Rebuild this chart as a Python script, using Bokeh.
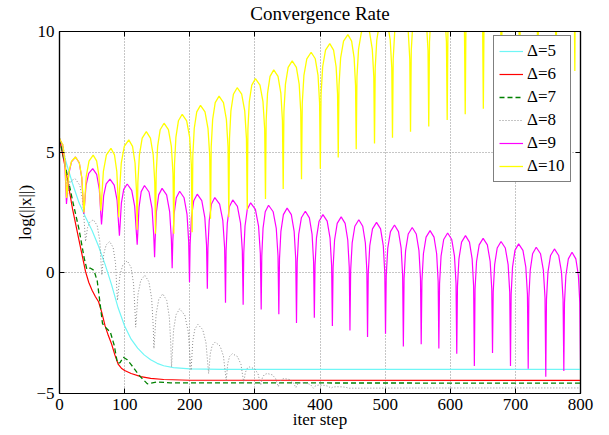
from bokeh.plotting import figure
from bokeh.models import (Range1d, FixedTicker, LinearAxis, Legend, LegendItem, Grid,
                          CustomLabelingPolicy)
from bokeh.embed import file_html
from bokeh.resources import INLINE

# ---------------- data ----------------
X_TICKS = [0, 100, 200, 300, 400, 500, 600, 700, 800]
Y_TICKS = [-5, 0, 5, 10]
LABELS = ["\u0394=5", "\u0394=6", "\u0394=7", "\u0394=8", "\u0394=9", "\u0394=10"]

# smooth curves
D5_X = [0, 10, 20, 30, 40, 50, 60, 70, 80, 90, 100, 110, 120, 130, 140, 150, 160, 175, 200, 250, 800]
D5_Y = [5.56, 4.6, 3.7, 2.9, 2.3, 1.75, 1.1, 0.35, -0.5, -1.45, -2.2, -2.75, -3.12, -3.4, -3.6, -3.75,
        -3.85, -3.93, -3.98, -4.0, -4.0]

D6_X = [0, 10, 20, 30, 40, 45, 50, 55, 60, 65, 70, 75, 80, 85, 90, 95, 100, 110, 125, 140, 160, 200, 800]
D6_Y = [5.56, 4.2, 2.65, 1.35, 0.05, -0.4, -0.72, -0.98, -1.2, -1.65, -2.2, -2.6, -2.95, -3.4, -3.78,
        -3.95, -4.05, -4.17, -4.3, -4.37, -4.42, -4.45, -4.46]

D7_X = [0, 10, 20, 30, 38, 42, 47, 53, 58, 62, 66, 72, 78, 84, 89, 93, 98, 104, 110, 122, 135, 150, 170, 800]
D7_Y = [5.56, 4.3, 3.0, 1.8, 0.6, 0.15, 0.2, 0.1, -0.35, -1.2, -2.1, -2.3, -2.45, -3.0, -3.75, -3.72,
        -3.5, -3.6, -3.8, -4.24, -4.6, -4.52, -4.56, -4.57]

# oscillating curves: alternating peaks / troughs (iteration, value)
D8_EXT_X = [0, 12, 24, 40, 52, 65, 77, 89, 104, 117, 131, 145, 158.5, 172, 184.5, 202, 212.5, 229,
            239, 256, 265.5, 283, 292, 309, 319, 336, 345, 363, 372, 390, 399, 417, 426, 444, 800]
D8_EXT_Y = [5.56, 3.2, 3.9, 1.3, 2.2, -0.1, 1.3, -1.14, 0.5, -2.25, -0.1, -3.14, -0.87, -3.9, -1.49,
            -4.04, -2.14, -4.17, -2.87, -4.45, -3.35, -4.55, -3.9, -4.65, -4.17, -4.72, -4.38, -4.76,
            -4.55, -4.78, -4.65, -4.78, -4.72, -4.78, -4.77]

D9_EXT_X = [0, 10.7, 24.6, 37.4, 51, 64.5, 77.5, 92, 104, 119.3, 130.5, 146, 157.5, 173, 184.5, 199.6,
            211.5, 227, 238.5, 254.9, 266, 282, 293.5, 309.7, 321, 336.8, 349.5, 363.9, 377.5, 391.3,
            404.5, 419, 432.5, 446, 459.6, 473, 486.8, 500.6, 514.4, 528, 541.6, 555.4, 569, 582.5,
            596, 610, 623.4, 637, 650.5, 664.9, 678, 692.5, 705, 719.7, 732, 746.7, 760, 774.4, 787, 800]
D9_EXT_Y = [5.56, 2.85, 4.8, 2.45, 4.32, 2.0, 3.88, 1.54, 3.68, 1.17, 3.62, 0.65, 3.5, 0.19, 3.38, -0.39,
            3.26, -0.66, 3.12, -1.24, 3.02, -1.32, 2.9, -1.52, 2.8, -1.72, 2.68, -2.08, 2.55, -1.86,
            2.41, -2.2, 2.32, -2.39, 2.2, -2.66, 2.09, -2.52, 1.98, -3.05, 1.88, -2.96, 1.75, -3.13,
            1.65, -3.35, 1.54, -3.86, 1.43, -3.32, 1.3, -3.86, 1.2, -3.97, 1.06, -4.31, 0.99, -4.07, 0.85, -3.62]

D10_EXT_X = [0, 11, 24.6, 37.5, 51.7, 63.5, 79, 91, 106.4, 119.2, 133.3, 147.4, 160.5, 175.5, 188.4,
             203.7, 216.5, 231.9, 245, 260, 272.8, 288.3, 300.9, 316.3, 329, 343.5, 357.3, 371.6,
             386.4, 400.5, 415, 428, 442.8, 455.6, 470, 483.7, 497.5, 511.3, 525, 539, 553, 567, 581,
             595.3, 609, 623, 637, 650.8, 665, 678.5, 692.5, 706.5, 720.5, 734.5, 748.5, 762.5, 777,
             791.3, 800]
D10_EXT_Y = [5.56, 3.1, 4.8, 2.5, 4.88, 2.57, 5.16, 2.3, 5.51, 1.79, 5.85, 1.62, 6.2, 1.62, 6.57,
             1.68, 6.94, 2.24, 7.32, 2.3, 7.67, 2.61, 8.05, 3.06, 8.41, 3.47, 8.78, 3.88, 9.14, 4.31,
             9.5, 4.78, 9.87, 5.12, 10.23, 5.36, 10.6, 5.6, 10.95, 5.85, 11.3, 6.06, 11.67, 6.33,
             12.03, 6.57, 12.4, 6.8, 12.75, 7.05, 13.1, 7.3, 13.45, 7.55, 13.8, 7.8, 14.15, 8.36, 14.3]

# arch shape (fraction of the way from a peak to the next trough, drop below the peak)
ARCH_U = [0.45, 0.75, 0.92]
ARCH_DROP = [0.27, 0.96, 2.1]


def arches(ext_x, ext_y):
    xs, ys = [ext_x[0]], [ext_y[0]]
    for i in range(1, len(ext_x)):
        x0, y0, x1, y1 = ext_x[i - 1], ext_y[i - 1], ext_x[i], ext_y[i]
        if y0 >= y1:
            px, py, tx, ty, rising = x0, y0, x1, y1, False
        else:
            px, py, tx, ty, rising = x1, y1, x0, y0, True
        scale = min(1.0, (py - ty) / 2.6)
        pts = [(px + u * (tx - px), py - d * scale) for u, d in zip(ARCH_U, ARCH_DROP)]
        if rising:
            pts = pts[::-1]
        for x, y in pts:
            xs.append(x)
            ys.append(y)
        xs.append(x1)
        ys.append(y1)
    return xs, ys


FONT = "Liberation Serif"

p = figure(width=609, height=435, output_backend="svg", toolbar_location=None,
           x_range=Range1d(0, 800), y_range=Range1d(-5, 10),
           min_border_left=59, min_border_right=29, min_border_top=30, min_border_bottom=42,
           x_axis_type=None, y_axis_type=None,
           title="Convergence Rate")
p.background_fill_color = "white"
p.border_fill_color = "white"
p.outline_line_color = "black"
p.outline_line_width = 1.2
p.title.align = "center"
p.title.text_font = FONT
p.title.text_font_size = "19px"
p.title.text_font_style = "normal"
p.title.text_color = "black"
p.title.standoff = 0

NO_LABELS = CustomLabelingPolicy(code="return new Set()")


def style_axis(ax, ticks, show_labels):
    ax.ticker = FixedTicker(ticks=ticks)
    ax.axis_line_color = "black"
    ax.axis_line_width = 1.2
    ax.major_tick_in = 5
    ax.major_tick_out = 0
    ax.major_tick_line_color = "black"
    ax.minor_tick_line_color = None
    ax.major_label_text_font = FONT
    ax.major_label_text_color = "black"
    ax.axis_label_text_font = FONT
    ax.axis_label_text_font_style = "normal"
    ax.axis_label_text_color = "black"
    ax.axis_label_text_font_size = "17px"
    if show_labels:
        ax.major_label_text_font_size = "17px"
    else:
        ax.major_label_text_font_size = "0px"
        ax.major_label_policy = NO_LABELS


xb = LinearAxis()
yl = LinearAxis()
xt = LinearAxis()
yr = LinearAxis()
p.add_layout(xb, "below")
p.add_layout(yl, "left")
p.add_layout(xt, "above")
p.add_layout(yr, "right")
style_axis(xb, X_TICKS, True)
style_axis(yl, Y_TICKS, True)
style_axis(xt, X_TICKS, False)
style_axis(yr, Y_TICKS, False)

# invisible spacer between the frame and the title
spacer = LinearAxis()
p.add_layout(spacer, "above")
style_axis(spacer, X_TICKS, False)
spacer.axis_line_color = None
spacer.major_tick_line_color = None
spacer.major_tick_in = 0
spacer.major_tick_out = 8

xb.major_label_standoff = 5
yl.major_label_standoff = 5
yl.major_label_overrides = {-5: "\u22125"}
xb.axis_label = "iter step"
xb.axis_label_standoff = -3
yl.axis_label = "log(||x||)"
yl.axis_label_standoff = -2

for dim, tk in [(0, X_TICKS), (1, Y_TICKS)]:
    g = Grid(dimension=dim, ticker=FixedTicker(ticks=tk))
    g.grid_line_color = "#8c8c8c"
    g.grid_line_dash = "1 2"
    g.grid_line_width = 1
    p.add_layout(g)

x8, y8 = arches(D8_EXT_X, D8_EXT_Y)
x9, y9 = arches(D9_EXT_X, D9_EXT_Y)
x10, y10 = arches(D10_EXT_X, D10_EXT_Y)

r5 = p.line(D5_X, D5_Y, line_color="#6ff6f6", line_width=1.2)
r6 = p.line(D6_X, D6_Y, line_color="#ff0000", line_width=1.2)
r7 = p.line(D7_X, D7_Y, line_color="#008000", line_width=1.3, line_dash="5 3")
r8 = p.line(x8, y8, line_color="#8a8a8a", line_width=1, line_dash="1 2")
r9 = p.line(x9, y9, line_color="#ff00ff", line_width=1.2)
r10 = p.line(x10, y10, line_color="#ffff00", line_width=1.3)

legend = Legend(items=[LegendItem(label=l, renderers=[r]) for l, r in
                       zip(LABELS, [r5, r6, r7, r8, r9, r10])],
                location=(434, 211))
legend.label_text_font = FONT
legend.label_text_font_size = "17px"
legend.label_text_color = "black"
legend.glyph_width = 24
legend.glyph_height = 20
legend.label_height = 20
legend.label_standoff = 4
legend.spacing = 3
legend.padding = 5
legend.margin = 0
legend.border_line_color = "black"
legend.border_line_width = 1.5
legend.background_fill_color = "white"
legend.background_fill_alpha = 1
p.add_layout(legend)

open("out.html", "w").write(file_html(p, INLINE))
